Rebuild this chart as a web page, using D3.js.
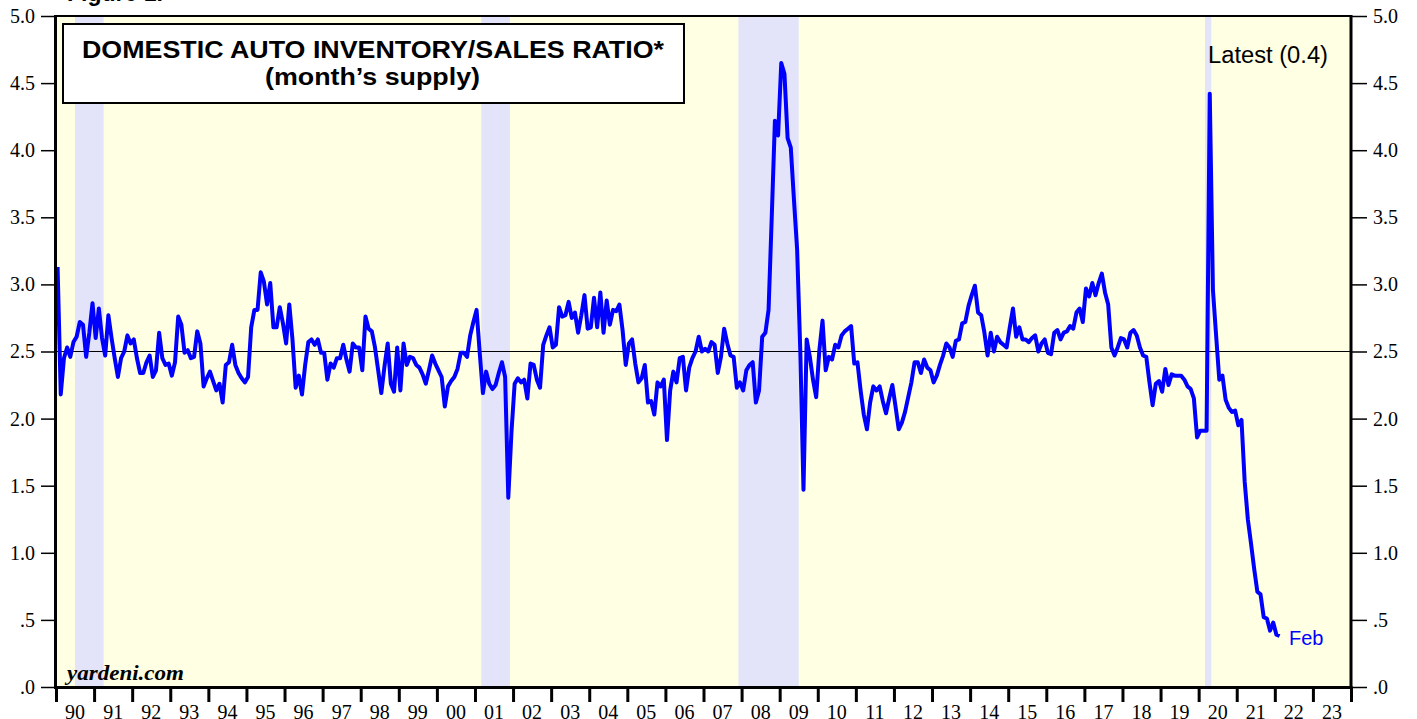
<!DOCTYPE html>
<meta charset="utf-8">
<style>
  body { margin: 0; background: #fff; }
  svg { display: block; }
  .axis text { font: 20px "Liberation Serif", "Times New Roman", serif; fill: #000; }
  .axis path { display: none; }
</style>
<svg width="1417" height="719"></svg>
<script src="https://d3js.org/d3.v7.min.js"></script>
<script>

  // domestic auto inventory/sales ratio, monthly from Jan 1990
  var ratio1990s = [
    3.13, 2.18, 2.45, 2.53, 2.46, 2.57, 2.61, 2.72, 2.70, 2.46, 2.64, 2.86,
    2.60, 2.82, 2.60, 2.47, 2.77, 2.60, 2.45, 2.31, 2.45, 2.50, 2.62, 2.56,
    2.59, 2.45, 2.34, 2.34, 2.42, 2.47, 2.31, 2.36, 2.64, 2.45, 2.40, 2.41,
    2.32, 2.42, 2.76, 2.70, 2.49, 2.51, 2.45, 2.46, 2.65, 2.56, 2.24, 2.30,
    2.35, 2.28, 2.21, 2.26, 2.12, 2.40, 2.42, 2.55, 2.40, 2.34, 2.30, 2.27,
    2.31, 2.68, 2.81, 2.81, 3.09, 3.02, 2.85, 3.01, 2.68, 2.68, 2.83, 2.71,
    2.56, 2.85, 2.59, 2.23, 2.32, 2.18, 2.40, 2.57, 2.59, 2.55, 2.59, 2.49,
    2.49, 2.29, 2.41, 2.38, 2.45, 2.45, 2.55, 2.44, 2.35, 2.56, 2.53, 2.53,
    2.36, 2.76, 2.67, 2.65, 2.53, 2.36, 2.19, 2.39, 2.56, 2.26, 2.20, 2.53,
    2.21, 2.56, 2.40, 2.46, 2.45, 2.40, 2.38, 2.33, 2.26, 2.36, 2.47, 2.41
  ];
  var ratio2000s = [
    2.36, 2.31, 2.09, 2.24, 2.28, 2.31, 2.37, 2.49, 2.49, 2.46, 2.62, 2.72,
    2.81, 2.49, 2.19, 2.35, 2.26, 2.22, 2.25, 2.34, 2.42, 2.31, 1.41, 1.90,
    2.26, 2.30, 2.27, 2.29, 2.15, 2.41, 2.40, 2.29, 2.23, 2.55, 2.62, 2.68,
    2.53, 2.55, 2.83, 2.76, 2.77, 2.87, 2.75, 2.79, 2.64, 2.77, 2.92, 2.67,
    2.68, 2.90, 2.68, 2.94, 2.64, 2.88, 2.70, 2.81, 2.80, 2.85, 2.66, 2.40,
    2.56, 2.59, 2.41, 2.27, 2.30, 2.40, 2.12, 2.13, 2.03, 2.27, 2.24, 2.29,
    1.84, 2.21, 2.35, 2.27, 2.45, 2.46, 2.21, 2.38, 2.45, 2.50, 2.61, 2.50,
    2.52, 2.50, 2.57, 2.55, 2.34, 2.46, 2.67, 2.56, 2.47, 2.46, 2.23, 2.27,
    2.21, 2.36, 2.40, 2.42, 2.12, 2.21, 2.61, 2.64, 2.81, 3.50, 4.22, 4.11,
    4.65, 4.57, 4.09, 4.02, 3.63, 3.26, 2.50, 1.47, 2.59, 2.46, 2.29, 2.16
  ];
  var ratio2010s = [
    2.51, 2.73, 2.36, 2.46, 2.44, 2.55, 2.53, 2.62, 2.65, 2.67, 2.69, 2.41,
    2.42, 2.21, 2.03, 1.92, 2.12, 2.24, 2.21, 2.24, 2.13, 2.04, 2.15, 2.25,
    2.09, 1.92, 1.97, 2.05, 2.16, 2.27, 2.42, 2.42, 2.34, 2.44, 2.38, 2.36,
    2.27, 2.32, 2.40, 2.47, 2.56, 2.53, 2.46, 2.58, 2.59, 2.71, 2.72, 2.84,
    2.92, 2.99, 2.79, 2.77, 2.64, 2.47, 2.64, 2.50, 2.61, 2.57, 2.55, 2.53,
    2.68, 2.82, 2.61, 2.68, 2.59, 2.59, 2.57, 2.60, 2.62, 2.50, 2.56, 2.59,
    2.49, 2.48, 2.64, 2.66, 2.59, 2.64, 2.65, 2.69, 2.67, 2.79, 2.82, 2.72,
    2.97, 2.91, 3.01, 2.92, 3.01, 3.08, 2.94, 2.85, 2.53, 2.47, 2.53, 2.60,
    2.59, 2.53, 2.64, 2.66, 2.62, 2.53, 2.47, 2.46, 2.27, 2.10, 2.26, 2.28,
    2.20, 2.37, 2.25, 2.33, 2.32, 2.32, 2.32, 2.29, 2.24, 2.22, 2.15, 1.86
  ];
  var ratio2020s = [
    1.91, 1.91, 1.91, 4.42, 2.96, 2.62, 2.29, 2.32, 2.14, 2.08, 2.05, 2.06,
    1.95, 1.99, 1.53, 1.25, 1.07, 0.88, 0.71, 0.69, 0.52, 0.51, 0.42, 0.48,
    0.39, 0.38
  ];

  // recessions as [start, end] in decimal years
  var recessions = [[1990.5, 1991.25], [2001.167, 2001.917], [2007.917, 2009.5], [2020.167, 2020.333]];

  var years = d3.range(1990, 2025);
  var yearLabels = ["90", "91", "92", "93", "94", "95", "96", "97", "98", "99", "00", "01",
    "02", "03", "04", "05", "06", "07", "08", "09", "10", "11", "12", "13", "14", "15", "16",
    "17", "18", "19", "20", "21", "22", "23"];
  var yTicks = [0, 0.5, 1, 1.5, 2, 2.5, 3, 3.5, 4, 4.5, 5];
  var yTickLabels = [".0", ".5", "1.0", "1.5", "2.0", "2.5", "3.0", "3.5", "4.0", "4.5", "5.0"];

  var svg = d3.select("svg");

  var x = d3.scaleLinear().domain([1990, 2024]).range([56, 1351]);
  var y = d3.scaleLinear().domain([0, 5]).range([687, 16]);

  var data = ratio1990s.concat(ratio2000s, ratio2010s, ratio2020s).map(function (v, i) {
    return { date: 1990 + (i + 0.5) / 12, value: v };
  });

  svg.append("defs").append("clipPath").attr("id", "plot")
    .append("rect")
    .attr("x", x(1990)).attr("y", y(5))
    .attr("width", x(2024) - x(1990)).attr("height", y(0) - y(5));

  svg.append("rect")
    .attr("x", x(1990)).attr("y", y(5))
    .attr("width", x(2024) - x(1990)).attr("height", y(0) - y(5))
    .attr("fill", "#ffffe3");

  svg.selectAll(".rec")
    .data(recessions)
    .enter().append("rect")
    .attr("class", "rec")
    .attr("x", function (d) { return x(d[0]); })
    .attr("y", y(5))
    .attr("width", function (d) { return x(d[1]) - x(d[0]); })
    .attr("height", y(0) - y(5))
    .attr("fill", "#e3e3fa");

  svg.append("line")
    .attr("x1", x(1990)).attr("x2", x(2024))
    .attr("y1", y(2.5)).attr("y2", y(2.5))
    .attr("stroke", "#000").attr("stroke-width", 1.2);

  // title box
  svg.append("rect")
    .attr("x", 63).attr("y", 24).attr("width", 621).attr("height", 79)
    .attr("fill", "#fff").attr("stroke", "#000").attr("stroke-width", 2);

  svg.append("text")
    .attr("x", 82).attr("y", 57.5)
    .attr("textLength", 582).attr("lengthAdjust", "spacingAndGlyphs")
    .style("font", "bold 23px 'Liberation Sans', Arial, sans-serif")
    .text("DOMESTIC AUTO INVENTORY/SALES RATIO*");

  svg.append("text")
    .attr("x", 265).attr("y", 85)
    .attr("textLength", 215).attr("lengthAdjust", "spacingAndGlyphs")
    .style("font", "bold 23px 'Liberation Sans', Arial, sans-serif")
    .text("(month\u2019s supply)");

  var line = d3.line()
    .x(function (d) { return x(d.date); })
    .y(function (d) { return y(d.value); });

  svg.append("path")
    .datum(data)
    .attr("clip-path", "url(#plot)")
    .attr("fill", "none")
    .attr("stroke", "#0000ff")
    .attr("stroke-width", 4)
    .attr("stroke-linejoin", "round")
    .attr("d", line);

  svg.append("text")
    .attr("x", 1208).attr("y", 63)
    .attr("textLength", 120).attr("lengthAdjust", "spacingAndGlyphs")
    .style("font", "23px 'Liberation Sans', Arial, sans-serif")
    .text("Latest (0.4)");

  svg.append("text")
    .attr("x", 1289).attr("y", 645)
    .attr("fill", "#0000ff")
    .style("font", "20px 'Liberation Sans', Arial, sans-serif")
    .text("Feb");

  svg.append("text")
    .attr("x", 67).attr("y", 680)
    .attr("textLength", 117).attr("lengthAdjust", "spacingAndGlyphs")
    .style("font", "italic bold 20px 'Liberation Serif', 'Times New Roman', serif")
    .text("yardeni.com");

  svg.append("text")
    .attr("x", 67).attr("y", 1)
    .style("font", "bold 23px 'Liberation Sans', Arial, sans-serif")
    .text("Figure 1.");

  // axes
  var yFmt = function (d) { return yTickLabels[yTicks.indexOf(d)]; };

  svg.append("g")
    .attr("class", "axis")
    .attr("transform", "translate(" + x(1990) + ",0)")
    .call(d3.axisLeft(y).tickValues(yTicks).tickSize(15).tickPadding(6).tickFormat(yFmt))
    .selectAll("line").attr("stroke-width", 1.5);

  svg.append("g")
    .attr("class", "axis")
    .attr("transform", "translate(" + x(2024) + ",0)")
    .call(d3.axisRight(y).tickValues(yTicks).tickSize(16).tickPadding(6).tickFormat(yFmt))
    .selectAll("line").attr("stroke-width", 1.5);

  svg.append("g")
    .attr("class", "axis")
    .attr("transform", "translate(0," + y(0) + ")")
    .call(d3.axisBottom(x).tickValues(years).tickSize(15).tickFormat(""))
    .selectAll("line").attr("stroke-width", 3);

  svg.append("g")
    .attr("class", "axis")
    .selectAll("text")
    .data(yearLabels)
    .enter().append("text")
    .attr("x", function (d, i) { return x(1990 + i + 0.5); })
    .attr("y", 719)
    .attr("text-anchor", "middle")
    .text(function (d) { return d; });

  // frame
  var frame = svg.append("g").attr("stroke", "#000").attr("fill", "none");
  frame.append("line").attr("x1", x(1990)).attr("x2", x(2024)).attr("y1", y(5)).attr("y2", y(5)).attr("stroke-width", 2);
  frame.append("line").attr("x1", x(1990) - 0.5).attr("x2", x(1990) - 0.5).attr("y1", y(5) - 1).attr("y2", y(0) + 1.5).attr("stroke-width", 3);
  frame.append("line").attr("x1", x(2024)).attr("x2", x(2024)).attr("y1", y(5) - 1).attr("y2", y(0) + 1.5).attr("stroke-width", 3);
  frame.append("line").attr("x1", x(1990) - 2).attr("x2", x(2024) + 1.5).attr("y1", y(0) + 0.5).attr("y2", y(0) + 0.5).attr("stroke-width", 3);

</script>
